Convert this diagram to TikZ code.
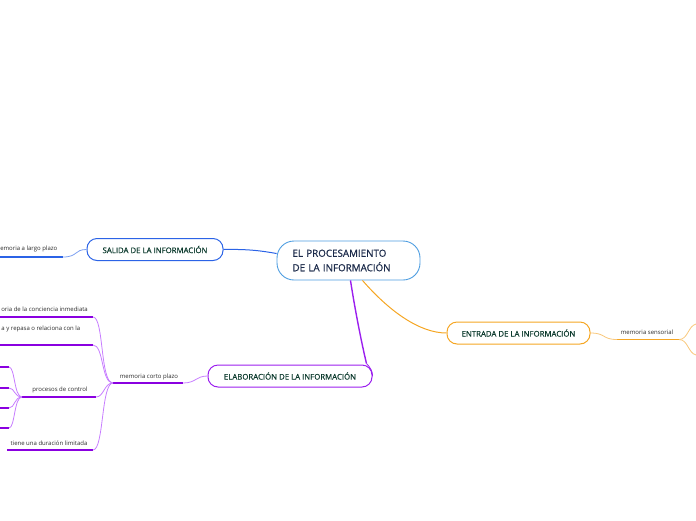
\documentclass[tikz,border=0pt]{standalone}
\usepackage{fontspec}
\setmainfont{Open Sans}
\newfontfamily\boxfont[FakeBold=0.6]{Open Sans}
\usetikzlibrary{calc}
\definecolor{cblue}{HTML}{4D9DE0}
\definecolor{sblue}{HTML}{2B63E6}
\definecolor{lblue}{HTML}{7A9EF0}
\definecolor{corange}{HTML}{F5A623}
\definecolor{lorange}{HTML}{F8C77A}
\definecolor{cpurple}{HTML}{9B1FEE}
\definecolor{dpurple}{HTML}{8A00E0}
\definecolor{lpurple}{HTML}{C77DFF}
\definecolor{tgreen}{HTML}{0D3B2E}
\definecolor{tnavy}{HTML}{1B2A4A}
\definecolor{tgray}{HTML}{2A2A2A}
\begin{document}
\begin{tikzpicture}[x=1pt,y=-1pt,
  mainbox/.style={draw=cblue,line width=0.9pt,rounded corners=17pt,minimum width=143pt,minimum height=39pt,inner sep=0pt,text width=112pt,align=left,text=tnavy,font=\boxfont\fontsize{9.8}{14.5}\selectfont},
  branchbox/.style={rounded corners=10pt,line width=1pt,minimum height=22pt,inner sep=0pt,text=tgreen,font=\boxfont\fontsize{7.8}{9}\selectfont},
  small/.style={inner sep=0pt,text=tgray,font=\fontsize{6}{7}\selectfont},
  ul/.style={line width=1.5pt},
  thin/.style={line width=0.8pt}]
\useasboundingbox (0,0) rectangle (696,520);

% central
\node[mainbox] (c) at (348.5,260.5) {EL PROCESAMIENTO\\DE LA INFORMACIÓN};

% main branches
\node[branchbox,draw=sblue,minimum width=136pt] (s) at (155,249.5) {SALIDA DE LA INFORMACIÓN};
\node[branchbox,draw=corange,minimum width=143pt] (en) at (518.5,333) {ENTRADA DE LA INFORMACIÓN};
\node[branchbox,draw=cpurple,minimum width=164pt] (e) at (290,376) {ELABORACIÓN DE LA INFORMACIÓN};

\coordinate (cs) at ($(c.west)+(0,-7)$);
\coordinate (ce) at ($(c.south)+(2,0)$);
\coordinate (co) at ($(c.south)+(14,0)$);
\coordinate (et) at ($(e.north east)+(-6,-1)$);
\draw[sblue,line width=1pt] (s.east) .. controls (250,249) and (262,251) .. (cs);
\draw[cpurple,line width=1.4pt] (ce) .. controls (355,310) and (362,345) .. (et);
\draw[cpurple,line width=0.8pt] (et) .. controls (370,367) and (373,372) .. (e.east);
\draw[corange,line width=1pt] (co) .. controls (390,312) and (420,333) .. (en.west);

% SALIDA child
\node[small,anchor=east] (mlp) at (57.5,249) {memoria a largo plazo};
\coordinate (mlpL) at (0,257);
\coordinate (mlpR) at (63,257);
\draw[sblue,ul] (mlpL) -- (mlpR);
\draw[lblue,thin] (mlpR) .. controls (78,257) and (74,249.5) .. (s.west);

% ENTRADA child
\node[small] (ms) at (647,332.5) {memoria sensorial};
\coordinate (msL) at (617,339.5);
\coordinate (msR) at (679,339.5);
\coordinate (ms1) at (696,324);
\coordinate (ms2) at (696,355);
\draw[corange,ul] (msL) -- (msR);
\draw[lorange,thin] (en.east) .. controls (606,333) and (602,339.5) .. (msL);
\draw[lorange,thin] (msR) .. controls (688,339.5) and (688,326) .. (ms1);
\draw[lorange,thin] (msR) .. controls (688,339.5) and (688,353) .. (ms2);

% ELABORACION child
\node[small] (mcp) at (149,376.5) {memoria corto plazo};
\coordinate (mcpL) at (113,383);
\coordinate (mcpR) at (183,383);
\draw[dpurple,ul] (mcpL) -- (mcpR);
\draw[lpurple,thin] (mcpR) .. controls (196,383) and (196,376) .. (e.west);

% children of memoria corto plazo
\node[small,anchor=east] (k1) at (88,309) {oria de la conciencia inmediata};
\coordinate (k1L) at (0,317); \coordinate (k1R) at (93,317);
\node[small,anchor=east] (k2) at (80.5,328.5) {a y repasa o relaciona con la};
\coordinate (k2L) at (0,345); \coordinate (k2R) at (93,345);
\node[small] (k3) at (60,389.5) {procesos de control};
\coordinate (k3L) at (22,397); \coordinate (k3R) at (96,397);
\node[small] (k4) at (49,443) {tiene una duración limitada};
\coordinate (k4L) at (7,450); \coordinate (k4R) at (93,450);
\foreach \k in {k1,k2,k3,k4}{\draw[dpurple,ul] (\k L) -- (\k R);}
\draw[lpurple,thin] (mcpL) .. controls (100,383) and (104,317) .. (k1R);
\draw[lpurple,thin] (mcpL) .. controls (101,383) and (104,345) .. (k2R);
\draw[lpurple,thin] (mcpL) .. controls (104,383) and (104,397) .. (k3R);
\draw[lpurple,thin] (mcpL) .. controls (101,383) and (104,450) .. (k4R);

% children of procesos de control
\foreach \i/\yy in {1/367,2/388,3/408,4/428}{
  \coordinate (p\i L) at (0,\yy);
  \coordinate (p\i R) at (9,\yy);
  \draw[dpurple,ul] (p\i L) -- (p\i R);
  \draw[lpurple,thin] (k3L) .. controls (14,397) and (15,\yy) .. (p\i R);
}
\end{tikzpicture}
\end{document}
